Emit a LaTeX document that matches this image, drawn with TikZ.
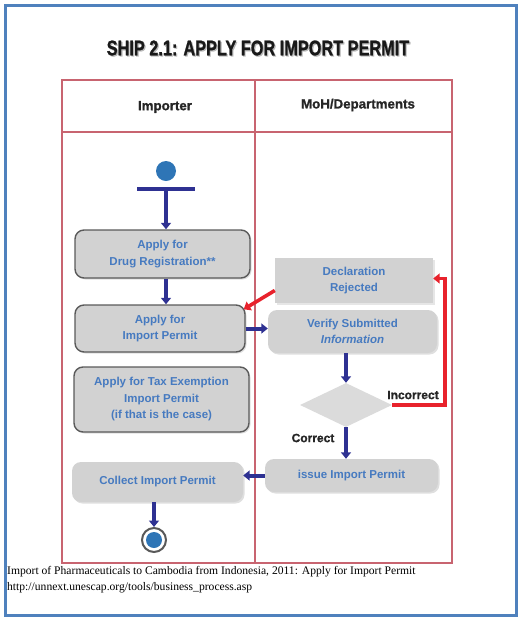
\documentclass[tikz,border=0pt]{standalone}
\usepackage{fontspec}
\setmainfont{Liberation Serif}
\setsansfont{Liberation Sans}
\newfontface\heavysans[FakeBold=1.2]{Liberation Sans Bold}
\usetikzlibrary{arrows.meta,shapes.geometric,shadows,calc}
\definecolor{frameblue}{RGB}{79,129,189}
\definecolor{lanered}{RGB}{200,100,112}
\definecolor{navy}{RGB}{46,49,146}
\definecolor{boxfill}{RGB}{210,210,210}
\definecolor{boxedge}{RGB}{90,90,90}
\definecolor{txtblue}{RGB}{70,122,192}
\definecolor{dotblue}{RGB}{46,117,182}
\definecolor{rejred}{RGB}{232,34,44}
\tikzset{
  fs/.style={font=\sffamily\bfseries\fontsize{#1}{16.5}\selectfont},
  hv/.style={font=\heavysans\fontsize{#1}{16.5}\selectfont},
  actbox/.style={rounded corners=9pt, fill=boxfill, draw=boxedge, line width=1.4pt,
    text=txtblue, fs=11.5, align=center, inner sep=0pt,
    drop shadow={shadow xshift=1.5pt, shadow yshift=-1.5pt, opacity=0.25}},
  softbox/.style={rounded corners=9pt, fill=boxfill, draw=none,
    text=txtblue, fs=11.5, align=center, inner sep=0pt,
    drop shadow={shadow xshift=1.5pt, shadow yshift=-1.5pt, opacity=0.25}},
  flow/.style={draw=navy, line width=4pt, -{Triangle[width=10pt,length=6.5pt]}},
  rejflow/.style={draw=rejred, line width=3.6pt, -{Triangle[width=10pt,length=6.5pt]}},
  lane/.style={draw=lanered, line width=1.8pt},
  lbl/.style={hv=12, text=black!85}
}
\begin{document}
\begin{tikzpicture}[x=1pt,y=-1pt]
\useasboundingbox (0,0) rectangle (524,622);
% outer frame
\draw[frameblue, line width=3pt] (5.5,5.5) rectangle (516.5,615.5);
% title
\node[hv=16.3, text=gray!55] at (259.2,49.2) {\scalebox{1}[1.3]{SHIP 2.1: APPLY FOR IMPORT PERMIT}};
\node[hv=16.3, text=black!90] (title) at (258,48) {\scalebox{1}[1.3]{SHIP 2.1: APPLY FOR IMPORT PERMIT}};
% swimlanes
\draw[lane] (62,80) rectangle (452,563);
\draw[lane] (255,80) -- (255,563);
\draw[lane] (62,132) -- (452,132);
\node[lbl, hv=13.3] (h1) at (165,107) {Importer};
\node[lbl, hv=13.3] (h2) at (358,105) {MoH/Departments};
% start
\node[circle, fill=dotblue, minimum size=20pt, inner sep=0pt] (start) at (166,171) {};
\draw[navy, line width=3.5pt] (137,189) -- (195,189);
\coordinate (bar) at (166,191);
% importer lane
\node[actbox, minimum width=175pt, minimum height=48pt] (b1) at (162.5,254) {Apply for\\Drug Registration**};
\node[actbox, minimum width=170pt, minimum height=47pt] (b2) at (160,328.5) {Apply for\\Import Permit};
\node[actbox, minimum width=175pt, minimum height=65pt] (b3) at (161.5,399.5) {Apply for Tax Exemption\\Import Permit\\(if that is the case)};
\node[softbox, minimum width=171pt, minimum height=40pt] (b4) at (157.5,482) {Collect Import Permit};
\node[circle, draw=gray!70!black, line width=2pt, fill=white, minimum size=24pt, inner sep=0pt] (end) at (154,540) {};
\node[circle, fill=dotblue, minimum size=16pt, inner sep=0pt] (endin) at (154,540) {};
% ministry lane
\node[fill=boxfill, minimum width=158pt, minimum height=45pt, inner sep=0pt, text=txtblue, fs=11.5, align=center,
  drop shadow={shadow xshift=1.5pt, shadow yshift=-1.5pt, opacity=0.2}] (dec) at (354,280.5) {Declaration\\Rejected};
\node[softbox, minimum width=169pt, minimum height=43pt] (ver) at (352.5,331.5) {Verify Submitted\\\itshape Information};
\node[diamond, fill=gray!28, minimum width=92pt, minimum height=44pt, inner sep=0pt, aspect=2.1] (dia) at (346,405) {};
\node[softbox, minimum width=173pt, minimum height=33pt] (iss) at (351.5,475.5) {issue Import Permit};
\node[lbl] (inc) at (413,395) {Incorrect};
\node[lbl] (cor) at (313,438) {Correct};
% connectors
\draw[flow] (bar) -- (bar |- b1.north);
\draw[flow] ([xshift=3.5pt]b1.south) -- ([xshift=3.5pt]b1.south |- b2.north);
\draw[flow] (b2.east) -- (b2.east -| ver.west);
\draw[flow] (dia.north |- ver.south) -- (dia.north);
\draw[flow] (dia.south) -- (dia.south |- iss.north);
\draw[flow] (iss.west) -- (iss.west -| b4.east);
\draw[flow] (end |- b4.south) -- (end.north);
\draw[rejflow] (dia.east) -- ++(53,0) |- ([yshift=2pt]dec.east);
\draw[rejflow] ([yshift=-10pt]dec.west) -- ([xshift=-2pt,yshift=-5pt]b2.north east);
% caption
\node[anchor=base west, inner sep=0pt, font=\fontsize{11.6}{13}\selectfont] (cap1) at (7,574) {Import of Pharmaceuticals to Cambodia from Indonesia, 2011: Apply for Import Permit};
\node[anchor=base west, inner sep=0pt, font=\fontsize{11.6}{13}\selectfont] (cap2) at (7,590) {http://unnext.unescap.org/tools/business\_process.asp};
\end{tikzpicture}
\end{document}
